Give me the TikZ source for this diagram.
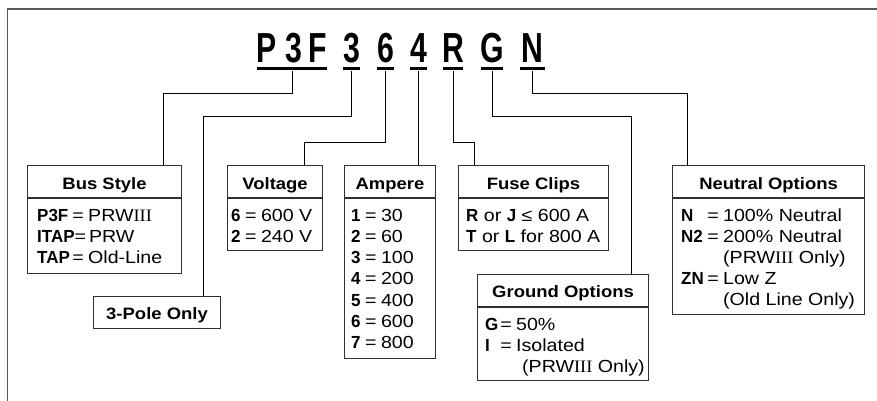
\documentclass[tikz,border=0pt]{standalone}
\usepackage{fontspec}
\setmainfont{Liberation Sans}[FakeStretch=1.12]
\newfontfamily\kfont{Liberation Sans}[FakeStretch=0.97]
\newfontfamily\codefont{Liberation Sans}[FakeStretch=0.72]
\newfontfamily\romfont{Liberation Serif}[FakeStretch=1.05]
\usetikzlibrary{calc}
\definecolor{framegray}{HTML}{5A5A5A}
\definecolor{boxgray}{HTML}{303030}
\newcommand\kb[1]{{\kfont\bfseries #1}}
\newcommand\kv[4]{\makebox[#1][l]{\kb{#2}\hfill=\hspace{#3}}#4}
\newcommand\eqk[2]{\kb{#1}\hspace{4.5pt}=\hspace{4.5pt}#2}
\begin{document}
\begin{tikzpicture}[x=1pt,y=-1pt,
  every node/.style={font=\fontsize{17.5}{20}\selectfont, text=black},
  frame/.style={draw=framegray, line width=1.6pt},
  box/.style={draw=boxgray, line width=1.1pt, inner sep=0pt, anchor=north west},
  divider/.style={draw=boxgray, line width=1.1pt},
  hdr/.style={font=\fontsize{16.5}{20}\selectfont\bfseries, anchor=base, inner sep=0pt},
  bodyline/.style={anchor=base west, inner sep=0pt},
  code/.style={font=\codefont\bfseries\fontsize{42}{42}\selectfont, anchor=base, inner sep=0pt},
  uline/.style={fill=black, inner sep=0pt, minimum height=3pt},
  conn/.style={draw=black, line width=1pt}]
\useasboundingbox (0,0) rectangle (877,401);
% frame
\draw[frame] (7.5,401) -- (7.5,9) -- (877,9);
% catalog code letters
\node[code] (cP) at (267,63) {P};
\node[code] (c3a) at (294,63) {3};
\node[code] (cF) at (318,63) {F};
\node[code] (c3) at (351.5,63) {3};
\node[code] (c6) at (385.5,63) {6};
\node[code] (c4) at (418.5,63) {4};
\node[code] (cR) at (453,63) {R};
\node[code] (cG) at (492,63) {G};
\node[code] (cN) at (532.5,63) {N};
% underlines
\node[uline, minimum width=70] (u1) at (292,69) {};
\node[uline, minimum width=17] (u2) at (351.5,69) {};
\node[uline, minimum width=17] (u3) at (385.5,69) {};
\node[uline, minimum width=17] (u4) at (418.5,69) {};
\node[uline, minimum width=20] (u5) at (453,69) {};
\node[uline, minimum width=22] (u6) at (492,69) {};
\node[uline, minimum width=25] (u7) at (532.5,69) {};
% boxes
\node[box, minimum width=154, minimum height=108] (bus) at (27,165) {};
\node[box, minimum width=127, minimum height=32] (pole) at (93,296) {};
\node[box, minimum width=95, minimum height=85] (volt) at (227,165) {};
\node[box, minimum width=91, minimum height=193] (amp) at (344,165) {};
\node[box, minimum width=150, minimum height=85] (fuse) at (458,165) {};
\node[box, minimum width=171, minimum height=106] (gnd) at (477,274) {};
\node[box, minimum width=192, minimum height=149] (neut) at (672,165) {};
\foreach \b in {bus,volt,amp,fuse,gnd,neut}
  \draw[divider] ([yshift=-33]\b.north west) -- ([yshift=-33]\b.north east);
% headers
\node[hdr] (busH) at ([yshift=-24.5]bus.north) {Bus Style};
\node[hdr] (voltH) at ([yshift=-24.5]volt.north) {Voltage};
\node[hdr] (ampH) at ([yshift=-24.5]amp.north) {Ampere};
\node[hdr] (fuseH) at ([yshift=-24.5]fuse.north) {Fuse Clips};
\node[hdr] (gndH) at ([yshift=-23.5]gnd.north) {Ground Options};
\node[hdr] (neutH) at ([yshift=-24.5]neut.north) {Neutral Options};
\node[hdr] (poleT) at ([yshift=-23]pole.north) {3-Pole Only};
% bus style body
\node[bodyline] (bus1) at (37,221) {\kv{51pt}{P3F}{4.5pt}{PRW{\romfont III}}};
\node[bodyline] (bus2) at (37,242) {\kb{ITAP}=\hspace{3pt}PRW};
\node[bodyline] (bus3) at (37,263) {\kv{51pt}{TAP}{4.5pt}{Old-Line}};
% voltage body
\node[bodyline] (volt1) at (231,221.5) {\eqk{6}{600 V}};
\node[bodyline] (volt2) at (231,242.5) {\eqk{2}{240 V}};
% ampere body
\node[bodyline] (amp1) at (351,221) {\eqk{1}{30}};
\node[bodyline] (amp2) at (351,242.3) {\eqk{2}{60}};
\node[bodyline] (amp3) at (351,263.6) {\eqk{3}{100}};
\node[bodyline] (amp4) at (351,284.9) {\eqk{4}{200}};
\node[bodyline] (amp5) at (351,306.2) {\eqk{5}{400}};
\node[bodyline] (amp6) at (351,327.5) {\eqk{6}{600}};
\node[bodyline] (amp7) at (351,348.8) {\eqk{7}{800}};
% fuse clips body
\node[bodyline] (fuse1) at (466,221.5) {\kb{R} or \kb{J} ≤ 600 A};
\node[bodyline] (fuse2) at (466,242.5) {\kb{T} or \kb{L} for 800 A};
% ground body
\node[bodyline] (gnd1) at (485,330) {\kv{31pt}{G}{4.5pt}{50\%}};
\node[bodyline] (gnd2) at (485,351) {\kv{31pt}{I}{4.5pt}{Isolated}};
\node[bodyline] (gnd3) at (522,372) {(PRW{\romfont III} Only)};
% neutral body
\node[bodyline] (neut1) at (681,221) {\kv{42pt}{N}{4.5pt}{100\% Neutral}};
\node[bodyline] (neut2) at (681,242) {\kv{42pt}{N2}{4.5pt}{200\% Neutral}};
\node[bodyline] (neut3) at (723,263) {(PRW{\romfont III} Only)};
\node[bodyline] (neut4) at (681,284) {\kv{42pt}{ZN}{4.5pt}{Low Z}};
\node[bodyline] (neut5) at (723,305) {(Old Line Only)};
% connectors
\coordinate (k1) at (163,94);
\draw[conn] (u1.south) |- (k1) -- (k1 |- bus.north);
\coordinate (k2) at (203,117);
\draw[conn] (u2.south) |- (k2) -- (k2 |- pole.north);
\coordinate (k3) at (304,142);
\draw[conn] (u3.south) |- (k3) -- (k3 |- volt.north);
\draw[conn] (u4.south) -- (u4.south |- amp.north);
\coordinate (k5) at (474,142);
\draw[conn] (u5.south) |- (k5) -- (k5 |- fuse.north);
\coordinate (k6) at (631,117);
\draw[conn] (u6.south) |- (k6) -- (k6 |- gnd.north);
\coordinate (k7) at (687,94);
\draw[conn] (u7.south) |- (k7) -- (k7 |- neut.north);
\end{tikzpicture}
\end{document}
